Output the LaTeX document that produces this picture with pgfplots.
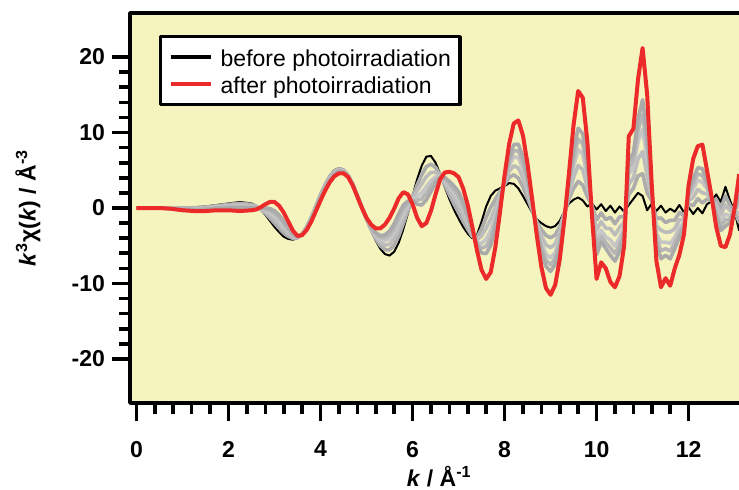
\documentclass[border=0pt]{standalone}
\usepackage{fontspec}
\setmainfont{Liberation Sans}
\usepackage{pgfplots}
\pgfplotsset{compat=1.18}
\usepackage{pgfplotstable}
\definecolor{bgyellow}{RGB}{245,243,190}
\definecolor{curvered}{RGB}{236,42,42}
\definecolor{grA}{RGB}{172,172,172}
\definecolor{grB}{RGB}{188,188,188}
\definecolor{grC}{RGB}{198,198,198}
\definecolor{grD}{RGB}{182,182,182}
\definecolor{grE}{RGB}{170,170,170}
\newcommand\lab{\fontsize{11.5}{13}\selectfont}

% k, before (B), after (R), intermediate scans g1..g5
\pgfplotstableread{
k B R g1 g2 g3 g4 g5
0 0 0 0 0 0 0 0
0.25 0 0 0 0 0 0 0
0.5 0 0 0 0 0 0 0
0.75 0 -0.1 -0.02 -0.03 -0.05 -0.06 -0.07
1.0 0.05 -0.3 0 -0.05 -0.11 -0.14 -0.18
1.25 0.1 -0.4 0.03 -0.05 -0.13 -0.18 -0.23
1.5 0.2 -0.4 0.11 0.02 -0.07 -0.13 -0.19
1.75 0.4 -0.3 0.3 0.19 0.09 0.02 -0.06
2.0 0.6 -0.3 0.47 0.33 0.2 0.11 0.02
2.25 0.8 -0.4 0.62 0.44 0.26 0.14 0.02
2.5 0.6 -0.3 0.47 0.33 0.2 0.11 0.02
2.6 0.3 -0.2 0.23 0.15 0.08 0.03 -0.03
2.7 -0.2 0.1 -0.16 -0.11 -0.07 -0.04 0.0
2.8 -0.9 0.5 -0.69 -0.48 -0.27 -0.13 0.01
2.9 -1.7 0.8 -1.33 -0.95 -0.58 -0.33 -0.08
3.0 -2.5 0.8 -2.01 -1.51 -1.02 -0.69 -0.36
3.1 -3.2 0.3 -2.68 -2.15 -1.63 -1.28 -0.93
3.2 -3.8 -0.6 -3.32 -2.84 -2.36 -2.04 -1.72
3.3 -4.1 -1.8 -3.76 -3.41 -3.07 -2.84 -2.61
3.4 -4.2 -3.0 -4.02 -3.84 -3.66 -3.54 -3.42
3.5 -4.0 -3.7 -3.96 -3.91 -3.87 -3.84 -3.81
3.6 -3.4 -3.6 -3.43 -3.46 -3.49 -3.51 -3.53
3.7 -2.4 -2.9 -2.48 -2.55 -2.63 -2.68 -2.73
3.8 -1.1 -1.8 -1.21 -1.31 -1.42 -1.49 -1.56
3.9 0.4 -0.4 0.28 0.16 0.04 -0.04 -0.12
4.0 1.9 1.0 1.77 1.63 1.5 1.41 1.32
4.1 3.2 2.3 3.07 2.93 2.8 2.71 2.62
4.2 4.3 3.4 4.17 4.03 3.9 3.81 3.72
4.3 5.0 4.2 4.88 4.76 4.64 4.56 4.48
4.4 5.3 4.6 5.2 5.09 4.99 4.92 4.85
4.5 5.1 4.6 5.03 4.95 4.88 4.83 4.78
4.6 4.4 4.1 4.36 4.31 4.27 4.24 4.21
4.7 3.2 3.0 3.17 3.14 3.11 3.09 3.07
4.8 1.7 1.5 1.67 1.64 1.61 1.59 1.57
4.9 0.1 0.0 0.09 0.07 0.06 0.05 0.04
5.0 -1.5 -1.3 -1.47 -1.44 -1.41 -1.39 -1.37
5.1 -3.0 -2.2 -2.88 -2.76 -2.64 -2.56 -2.48
5.2 -4.3 -2.7 -4.06 -3.82 -3.58 -3.42 -3.26
5.3 -5.4 -2.7 -5.0 -4.59 -4.19 -3.92 -3.65
5.4 -6.1 -2.2 -5.52 -4.93 -4.35 -3.96 -3.57
5.5 -6.3 -1.3 -5.55 -4.8 -4.05 -3.55 -3.05
5.6 -5.8 -0.1 -4.95 -4.09 -3.24 -2.67 -2.1
5.7 -4.6 1.3 -3.72 -2.83 -1.95 -1.36 -0.77
5.8 -2.8 2.1 -2.07 -1.33 -0.6 -0.1 0.39
5.9 -0.7 1.8 -0.33 0.05 0.43 0.68 0.93
6.0 1.6 0.5 1.44 1.27 1.11 1.0 0.89
6.1 3.8 -1.3 3.04 2.27 1.51 1.0 0.49
6.2 5.6 -2.4 4.4 3.2 2.0 1.2 0.4
6.3 6.8 -2.0 5.48 4.16 2.84 1.96 1.08
6.4 6.9 -0.4 5.81 4.71 3.62 2.89 2.16
6.5 6.0 1.8 5.37 4.74 4.11 3.69 3.27
6.6 4.5 3.8 4.4 4.29 4.19 4.12 4.05
6.7 2.8 4.7 3.09 3.37 3.66 3.85 4.04
6.8 1.2 4.8 1.74 2.28 2.82 3.18 3.54
6.9 -0.2 4.6 0.52 1.24 1.96 2.44 2.92
7.0 -1.4 4.1 -0.58 0.25 1.08 1.63 2.18
7.1 -2.5 2.6 -1.74 -0.97 -0.21 0.31 0.82
7.2 -3.4 0.4 -2.83 -2.26 -1.69 -1.31 -0.93
7.3 -4.0 -2.5 -3.78 -3.55 -3.33 -3.18 -3.03
7.4 -3.6 -5.6 -3.9 -4.2 -4.5 -4.7 -4.9
7.5 -1.8 -8.2 -2.76 -3.72 -4.68 -5.32 -5.96
7.6 0.2 -9.4 -1.24 -2.68 -4.12 -5.08 -6.04
7.7 1.6 -8.5 0.09 -1.43 -2.95 -3.96 -4.97
7.8 2.3 -5.2 1.18 0.05 -1.08 -1.83 -2.58
7.9 2.6 -0.6 2.12 1.64 1.16 0.84 0.52
8.0 2.9 4.3 3.11 3.32 3.53 3.67 3.81
8.1 3.3 8.5 4.08 4.86 5.64 6.16 6.68
8.2 3.2 11.2 4.4 5.6 6.8 7.6 8.4
8.3 2.6 11.6 3.95 5.3 6.65 7.55 8.45
8.4 1.6 9.6 2.8 4.0 5.2 6.0 6.8
8.5 0.5 5.8 1.3 2.09 2.89 3.42 3.95
8.6 -0.6 1.2 -0.33 -0.06 0.21 0.39 0.57
8.7 -1.5 -3.6 -1.82 -2.13 -2.45 -2.66 -2.87
8.8 -2.0 -7.8 -2.87 -3.74 -4.61 -5.19 -5.77
8.9 -2.4 -10.6 -3.63 -4.86 -6.09 -6.91 -7.73
9.0 -2.6 -11.5 -3.94 -5.27 -6.61 -7.5 -8.39
9.1 -2.4 -10.2 -3.57 -4.74 -5.91 -6.69 -7.47
9.2 -1.7 -6.8 -2.47 -3.23 -4.0 -4.51 -5.02
9.3 -0.5 -1.6 -0.67 -0.83 -1.0 -1.11 -1.22
9.4 0.6 4.6 1.2 1.8 2.4 2.8 3.2
9.5 1.1 11.0 2.59 4.07 5.56 6.55 7.54
9.6 1.4 15.5 3.52 5.63 7.75 9.16 10.57
9.7 1.0 14.6 3.04 5.08 7.12 8.48 9.84
9.8 0.2 8.8 1.49 2.78 4.07 4.93 5.79
9.9 0.6 -1.0 0.36 0.12 -0.12 -0.28 -0.44
10.0 -0.2 -9.4 -1.58 -2.96 -4.34 -5.26 -6.18
10.1 0.5 -7.2 -0.66 -1.81 -2.97 -3.74 -4.51
10.2 -0.4 -8.0 -1.54 -2.68 -3.82 -4.58 -5.34
10.3 0.3 -9.8 -1.22 -2.73 -4.25 -5.26 -6.27
10.4 -0.6 -10.5 -2.09 -3.57 -5.06 -6.05 -7.04
10.5 0.2 -9.0 -1.18 -2.56 -3.94 -4.86 -5.78
10.6 -0.5 -5.0 -1.18 -1.85 -2.53 -2.98 -3.43
10.7 0.4 9.5 1.77 3.13 4.5 5.41 6.32
10.8 1.2 10.5 2.6 3.99 5.39 6.32 7.25
10.9 2.0 17.0 4.25 6.5 8.75 10.25 11.75
11.0 1.6 21.2 4.54 7.48 10.42 12.38 14.34
11.1 -0.3 15.0 2.0 4.29 6.59 8.12 9.65
11.2 0.6 3.0 0.96 1.32 1.68 1.92 2.16
11.3 -0.4 -7.0 -1.39 -2.38 -3.37 -4.03 -4.69
11.4 0.3 -10.5 -1.32 -2.94 -4.56 -5.64 -6.72
11.5 -0.6 -9.3 -1.91 -3.21 -4.52 -5.39 -6.26
11.6 -0.1 -10.3 -1.63 -3.16 -4.69 -5.71 -6.73
11.7 -0.5 -8.0 -1.63 -2.75 -3.88 -4.63 -5.38
11.8 0.4 -6.2 -0.59 -1.58 -2.57 -3.23 -3.89
11.9 -0.6 -3.5 -1.04 -1.47 -1.91 -2.2 -2.49
12.0 0.1 3.0 0.54 0.97 1.41 1.7 1.99
12.1 -0.8 6.5 0.3 1.39 2.49 3.22 3.95
12.2 0.0 8.2 1.23 2.46 3.69 4.51 5.33
12.3 -0.7 8.4 0.67 2.03 3.4 4.31 5.22
12.4 0.5 5.0 1.18 1.85 2.53 2.98 3.43
12.5 0.9 1.5 0.99 1.08 1.17 1.23 1.29
12.6 1.8 -2.5 1.16 0.51 -0.14 -0.57 -1.0
12.7 0.8 -5.0 -0.07 -0.94 -1.81 -2.39 -2.97
12.8 2.8 -5.2 1.6 0.4 -0.8 -1.6 -2.4
12.9 1.0 -3.5 0.33 -0.35 -1.03 -1.48 -1.93
13.0 -0.5 0.0 -0.43 -0.35 -0.28 -0.23 -0.18
13.1 -3.0 4.5 -1.88 -0.75 0.38 1.13 1.88
}\exafs

\begin{document}
\begin{tikzpicture}
\begin{axis}[
  at={(0,0)}, anchor=south west,
  scale only axis, width=309.2pt, height=195pt,
  xmin=-0.141, xmax=13.3, ymin=-25.83, ymax=25.83,
  axis background/.style={fill=bgyellow},
  axis line style={line width=1.8pt},
  tick align=outside, tick pos=left,
  every tick/.append style={line width=1.8pt, black},
  major tick length=9pt, minor tick length=5.5pt,
  xtick={0,2,...,12}, xticklabels={0,2,4,6,8,10,12},
  minor x tick num=4,
  ytick={-20,-10,0,10,20}, yticklabels={-20,-10,0,10,20},
  minor y tick num=4,
  tick label style={font=\lab\bfseries},
  xticklabel style={yshift=-6.5pt},
  xlabel={\textit{k} / Å\textsuperscript{-1}},
  ylabel={\textit{k}\textsuperscript{3}χ(\textit{k}) / Å\textsuperscript{-3}},
  label style={font=\lab\bfseries},
  x label style={at={(axis description cs:0.5,0)}, anchor=base, yshift=-41.5pt},
  y label style={at={(axis description cs:-0.165,0.5)}, anchor=center, rotate=0},
  legend style={at={(axis description cs:0.0469,0.9436)}, anchor=north west,
    draw=black, line width=1.7pt, fill=white, font=\lab,
    inner xsep=4pt, inner ysep=3.5pt, row sep=0pt,
    nodes={inner sep=0.5pt, text height=11pt, text depth=1.5pt},
    cells={anchor=west}},
  legend image code/.code={
    \draw[#1, line width=2pt] (0pt,0pt) -- (20pt,0pt);},
  line join=round,
]
\addplot[black, line width=1pt] table[x=k, y=B] {\exafs};
\addlegendentry{\hspace{3.5pt}before photoirradiation}
\addplot[grA, line width=1.8pt, forget plot] table[x=k, y=g1] {\exafs};
\addplot[grB, line width=1.8pt, forget plot] table[x=k, y=g2] {\exafs};
\addplot[grC, line width=1.8pt, forget plot] table[x=k, y=g3] {\exafs};
\addplot[grD, line width=1.8pt, forget plot] table[x=k, y=g4] {\exafs};
\addplot[grE, line width=1.8pt, forget plot] table[x=k, y=g5] {\exafs};
\addplot[curvered, line width=2pt] table[x=k, y=R] {\exafs};
\addlegendentry{\hspace{3.5pt}after photoirradiation}
\end{axis}
\pgfresetboundingbox
\useasboundingbox (-65pt,-43pt) rectangle (304.5pt,201.5pt);
\end{tikzpicture}
\end{document}
